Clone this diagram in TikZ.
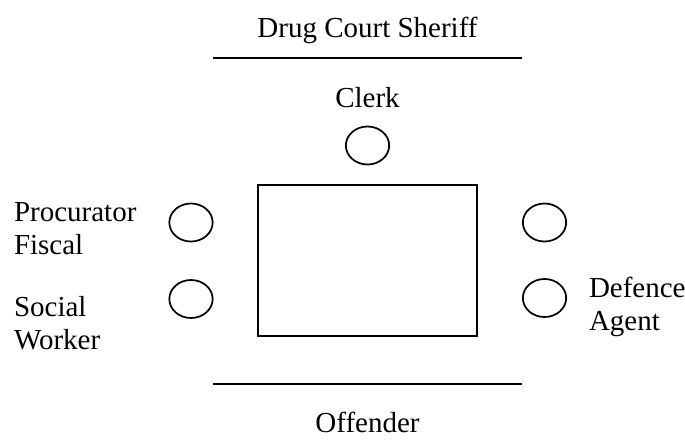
\documentclass[tikz,border=0pt]{standalone}
\usepackage{fontspec}
\setmainfont{Liberation Serif}
\usetikzlibrary{shapes.geometric}

\begin{document}
\begin{tikzpicture}[x=0.75pt, y=-0.75pt, line width=1.5pt,
  every node/.style={font=\fontsize{21.75}{24.75}\selectfont, inner sep=0pt},
  seat/.style={ellipse, draw, line width=1.3pt, minimum width=32.5pt, minimum height=28.5pt},
  label/.style={align=left, anchor=base west}]
  \useasboundingbox (0,0) rectangle (685,439);
  \node (sheriff) [anchor=base] at (367.5,37) {Drug Court Sheriff};
  \coordinate (tl) at (213,57.5);
  \coordinate (tr) at (522,57.5);
  \draw (tl) -- (tr);
  \node (clerk) [anchor=base] at (367.5,107) {Clerk};
  \node (s0) [seat] at (367.5,145.5) {};
  \node (bench) [draw, minimum width=164.25pt, minimum height=113.25pt] at (367.5,260.5) {};
  \node (s1) [seat] at (191,222.5) {};
  \node (s2) [seat] at (191,299) {};
  \node (s3) [seat] at (544.5,222.5) {};
  \node (s4) [seat] at (544.5,298) {};
  \node (pf) [label] at (13,254) {Procurator\\Fiscal};
  \node (sw) [label] at (13,349) {Social\\Worker};
  \node (da) [label] at (588,330) {Defence\\Agent};
  \coordinate (bl) at (213,384);
  \coordinate (br) at (522,384);
  \draw (bl) -- (br);
  \node (offender) [anchor=base] at (367.5,432) {Offender};
\end{tikzpicture}
\end{document}
